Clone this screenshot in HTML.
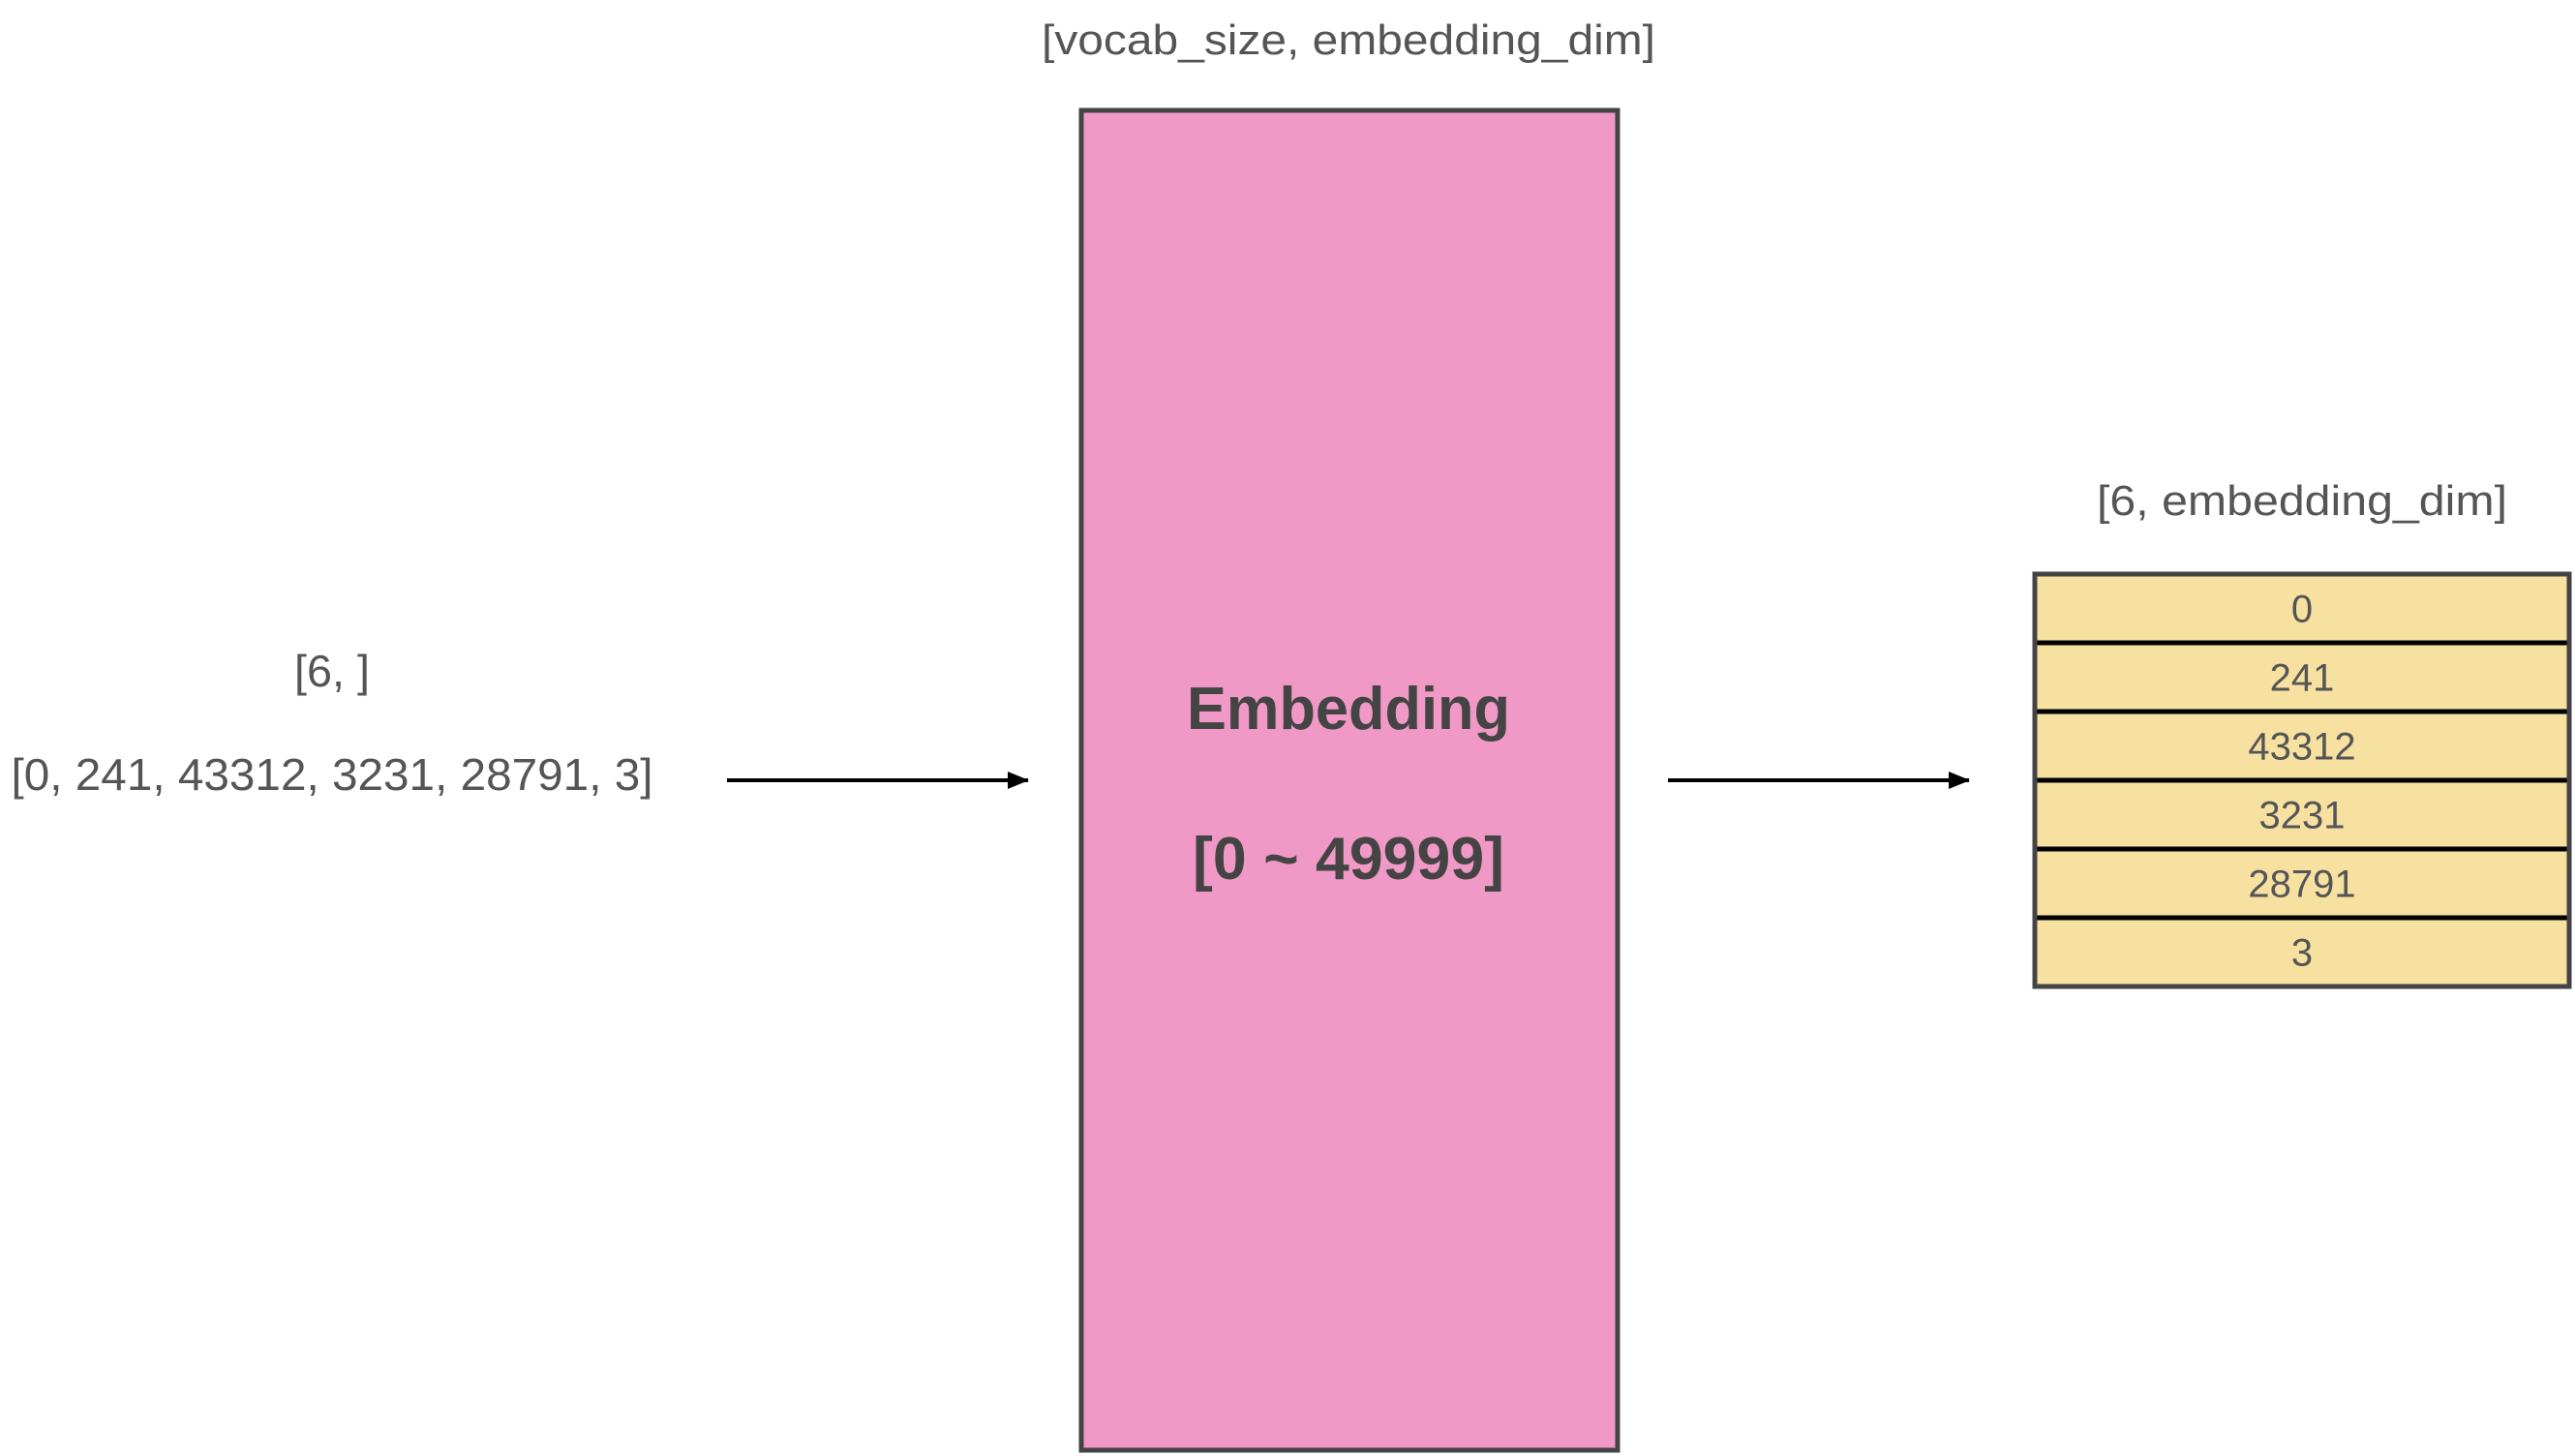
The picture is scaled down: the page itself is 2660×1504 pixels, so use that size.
<!DOCTYPE html>
<html><head><meta charset="utf-8"><style>
html,body{margin:0;padding:0;background:#fff;}
svg{display:block;}
text{font-family:"Liberation Sans",Arial,sans-serif;}
</style></head><body>
<svg width="2660" height="1504" viewBox="0 0 2660 1504">
<defs>
<marker id="ah2" markerWidth="22" markerHeight="18" refX="21" refY="9" orient="auto" markerUnits="userSpaceOnUse">
<path d="M0,0 L22,9 L0,18 z" fill="#000"/>
</marker>
</defs>
<text x="1393" y="56" font-size="44" fill="#555" text-anchor="middle" textLength="634" lengthAdjust="spacingAndGlyphs">[vocab_size, embedding_dim]</text>
<rect x="1117" y="114" width="554" height="1384" fill="#f199c6" stroke="#444" stroke-width="5"/>
<text x="1393" y="753" font-size="62" font-weight="bold" fill="#444" text-anchor="middle" textLength="334" lengthAdjust="spacingAndGlyphs">Embedding</text>
<text x="1393" y="908" font-size="62" font-weight="bold" fill="#444" text-anchor="middle" textLength="322" lengthAdjust="spacingAndGlyphs">[0 ~ 49999]</text>
<text x="343" y="709" font-size="46" fill="#555" text-anchor="middle" textLength="78" lengthAdjust="spacingAndGlyphs">[6, ]</text>
<text x="343" y="816" font-size="46" fill="#555" text-anchor="middle" textLength="663" lengthAdjust="spacingAndGlyphs">[0, 241, 43312, 3231, 28791, 3]</text>
<line x1="751" y1="806" x2="1062" y2="806" stroke="#000" stroke-width="4" marker-end="url(#ah2)"/>
<line x1="1723" y1="806" x2="2034" y2="806" stroke="#000" stroke-width="4" marker-end="url(#ah2)"/>
<text x="2378" y="532" font-size="44" fill="#555" text-anchor="middle" textLength="424" lengthAdjust="spacingAndGlyphs">[6, embedding_dim]</text>
<g id="table"></g>
</svg>
<script>
const rowValues = ["0","241","43312","3231","28791","3"];
const g = document.getElementById('table');
const NS = 'http://www.w3.org/2000/svg';
const x0 = 2102, w = 552, y0 = 593, rh = 71;
rowValues.forEach((v, i) => {
  const r = document.createElementNS(NS, 'rect');
  
  
  r.setAttribute('x', x0); r.setAttribute('y', y0 + i * rh);
  r.setAttribute('width', w); r.setAttribute('height', rh);
  r.setAttribute('fill', '#f6e1a1'); r.setAttribute('stroke', '#000'); r.setAttribute('stroke-width', '5');
  g.appendChild(r);
  const t = document.createElementNS(NS, 'text');
  
  
  t.setAttribute('x', x0 + w / 2); t.setAttribute('y', y0 + i * rh + rh / 2 + 14);
  t.setAttribute('font-size', '40'); t.setAttribute('fill', '#555'); t.setAttribute('text-anchor', 'middle');
  t.textContent = v;
  g.appendChild(t);
});
const border = document.createElementNS(NS, 'rect');


border.setAttribute('x', x0); border.setAttribute('y', y0);
border.setAttribute('width', w); border.setAttribute('height', rh * rowValues.length);
border.setAttribute('fill', 'none'); border.setAttribute('stroke', '#444'); border.setAttribute('stroke-width', '5');
g.appendChild(border);
</script>
</body></html>
